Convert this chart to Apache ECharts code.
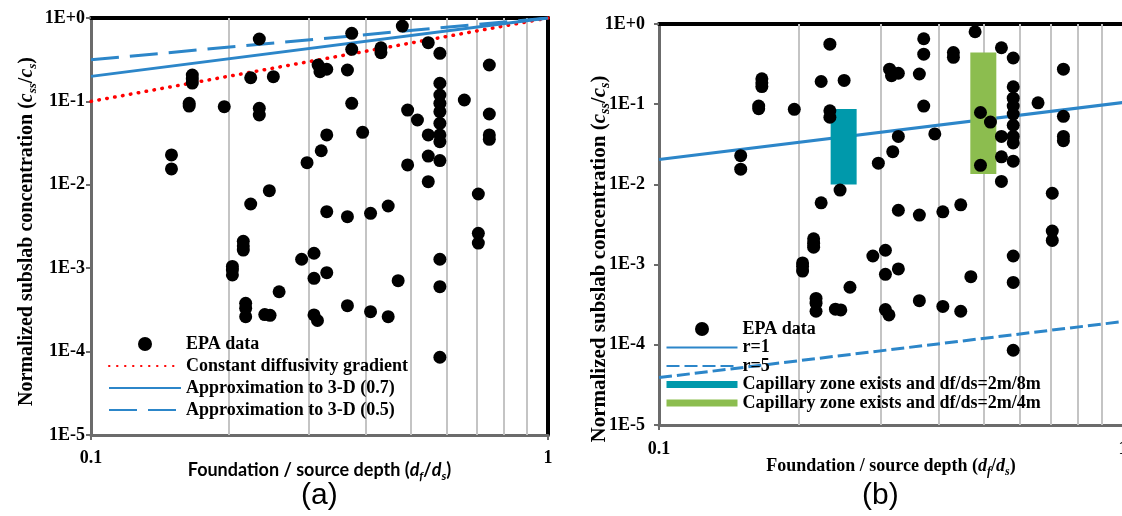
<!DOCTYPE html>
<html>
<head>
<meta charset="utf-8">
<script src="https://cdn.jsdelivr.net/npm/echarts@6.0.0/dist/echarts.min.js"></script>
<style>
  html, body { margin: 0; padding: 0; background: #fff; }
  #chart { width: 1122px; height: 516px; }
</style>
</head>
<body>
<div id="chart"></div>
<script>
'use strict';

/* EPA data, same points in both panels */
var epaX = [0.150, 0.150, 0.164, 0.164, 0.1666, 0.1666, 0.1666, 0.1957, 0.2236, 0.2335,
  0.2335, 0.2335, 0.2506, 0.2236, 0.2456, 0.314, 0.317, 0.328, 0.364, 0.372,
  0.372, 0.372, 0.431, 0.431, 0.480, 0.547, 0.580, 0.580, 0.580, 0.580,
  0.580, 0.580, 0.580, 0.580, 0.580, 0.547, 0.547, 0.547, 0.493, 0.518,
  0.493, 0.393, 0.328, 0.319, 0.297, 0.656, 0.744, 0.744, 0.744, 0.744,
  0.704, 0.704, 0.704, 0.328, 0.364, 0.409, 0.447, 0.2154, 0.2154, 0.2154,
  0.2039, 0.2039, 0.2039, 0.289, 0.3076, 0.3076, 0.328, 0.470, 0.580, 0.580,
  0.258, 0.218, 0.218, 0.218, 0.240, 0.2465, 0.3076, 0.313, 0.364, 0.409,
  0.447, 0.580];
var epaY = [0.0228, 0.0155, 0.095, 0.088, 0.207, 0.185, 0.166, 0.0864, 0.192, 0.56,
  0.0826, 0.0687, 0.198, 0.00589, 0.0085, 0.273, 0.227, 0.243, 0.238, 0.655,
  0.421, 0.0948, 0.44, 0.384, 0.80, 0.506, 0.377, 0.165, 0.119, 0.0948,
  0.0753, 0.0546, 0.0396, 0.0329, 0.0195, 0.0396, 0.0221, 0.0109, 0.0788, 0.0598,
  0.0173, 0.0426, 0.0396, 0.0256, 0.0184, 0.104, 0.273, 0.0706, 0.0396, 0.0351,
  0.00776, 0.00262, 0.0020, 0.00476, 0.00415, 0.00455, 0.00557, 0.0021, 0.00185, 0.00165,
  0.00105, 0.00095, 0.00083, 0.00128, 0.00151, 0.000757, 0.000883, 0.000708, 0.00128, 0.0006,
  0.000522, 0.000379, 0.00033, 0.000262, 0.000278, 0.000272, 0.000275, 0.000236, 0.000355, 0.000301,
  0.000262, 0.0000855];

/* model lines, read at both ends */
var lineX = [0.1, 1];
var constDiffY = [0.1, 1];
var approx07Y = [0.1995, 1];
var approx05Y = [0.316, 1];
var r1Y = [0.0205, 0.105];
var r5Y = [0.000039, 0.000195];

/* capillary zone bars */
var cap8mX = [0.25, 0.25];
var cap8mY = [0.01, 0.087];
var cap4mX = [0.5, 0.5];
var cap4mY = [0.0135, 0.44];

var gridX = [0.2, 0.3, 0.4, 0.5, 0.6, 0.7, 0.8, 0.9];
var xTickLabels = ['0.1', '1'];
var yTickLabels = ['1E-5', '1E-4', '1E-3', '1E-2', '1E-1', '1E+0'];

var serif = "'Liberation Serif', 'Times New Roman', serif";
var sans = "Lato, 'Liberation Sans', sans-serif";
var blue = '#2c86c9';

function pairs(xs, ys) {
  return xs.map(function (x, i) { return [x, ys[i]]; });
}

function richTitle(font, size) {
  return {
    n: { fontFamily: font, fontWeight: 'bold', fontSize: size, lineHeight: 24, color: '#000' },
    i: { fontFamily: font, fontWeight: 'bold', fontStyle: 'italic', fontSize: size, lineHeight: 24, color: '#000' },
    s: { fontFamily: font, fontWeight: 'bold', fontStyle: 'italic', fontSize: Math.round(size * 0.65), lineHeight: 12, verticalAlign: 'bottom', color: '#000' }
  };
}

var yName = '{n|Normalized subslab concentration (}{i|c}{s|ss}{n|/}{i|c}{s|s}{n|)}';
var xName = '{n|Foundation / source depth (}{i|d}{s|f}{n|/}{i|d}{s|s}{n|)}';

var gridLines = {
  silent: true,
  z: 1,
  symbol: ['none', 'none'],
  label: { show: false },
  lineStyle: { color: '#c4c4c4', width: 2, type: 'solid' },
  data: gridX.map(function (v) { return { xAxis: v }; })
};

function logX(gridIndex, margin, nameGap, font, size) {
  return {
    type: 'log', logBase: 10, min: 0.1, max: 1, gridIndex: gridIndex,
    axisLine: { show: true, lineStyle: { color: '#6b6b6b', width: 3 } },
    axisTick: { show: true, length: 5, lineStyle: { color: '#6b6b6b', width: 2 } },
    splitLine: { show: false },
    axisLabel: {
      margin: margin, color: '#000', fontFamily: serif, fontWeight: 'bold', fontSize: 18,
      formatter: function (v) { return v < 0.5 ? xTickLabels[0] : xTickLabels[1]; }
    },
    name: xName, nameLocation: 'middle', nameGap: nameGap, nameMoveOverlap: false,
    nameTextStyle: { rich: richTitle(font, size) }
  };
}

function logY(gridIndex, margin, nameGap, size, pad) {
  return {
    type: 'log', logBase: 10, min: 0.00001, max: 1, gridIndex: gridIndex,
    axisLine: { show: true, lineStyle: { color: '#6b6b6b', width: 3 } },
    axisTick: { show: true, length: 5, lineStyle: { color: '#6b6b6b', width: 2 } },
    splitLine: { show: false },
    axisLabel: {
      margin: margin, color: '#000', fontFamily: serif, fontWeight: 'bold', fontSize: 18,
      formatter: function (v) {
        var e = Math.round(Math.log(v) / Math.LN10);
        return yTickLabels[e + 5];
      }
    },
    name: yName, nameLocation: 'middle', nameGap: nameGap, nameMoveOverlap: false,
    nameTextStyle: { rich: richTitle(serif, size), padding: pad }
  };
}

function frame(gridIndex, pos) {
  return {
    type: 'value', min: 0, max: 1, gridIndex: gridIndex, position: pos,
    axisLine: { show: true, onZero: false, lineStyle: { color: '#000', width: 4 } },
    axisTick: { show: false }, axisLabel: { show: false }, splitLine: { show: false }
  };
}

/* legend icons for lines: no marker */
var noMark = { color: 'rgba(0,0,0,0)', borderWidth: 0, opacity: 0 };

var chart = echarts.init(document.getElementById('chart'));

var option = {
  animation: false,
  backgroundColor: '#fff',
  grid: [
    { left: 91, top: 18, width: 457, height: 417, outerBoundsMode: 'none', containLabel: false },
    { left: 659, top: 24, width: 464, height: 401, outerBoundsMode: 'none', containLabel: false }
  ],
  xAxis: [
    logX(0, 14, 23, sans, 18),
    frame(0, 'top'),
    logX(1, 15, 29, serif, 18),
    frame(1, 'top')
  ],
  yAxis: [
    logY(0, 6, 52, 20, [0, 10, 0, 0]),
    frame(0, 'right'),
    logY(1, 14, 47, 21, [0, 69, 0, 0])
  ],
  legend: [
    {
      orient: 'vertical', left: 108, top: 335, padding: 0,
      itemWidth: 72, itemHeight: 14, itemGap: 4,
      textStyle: { fontFamily: serif, fontWeight: 'bold', fontSize: 18, lineHeight: 18, color: '#000' },
      data: [
        'EPA data',
        { name: 'Constant diffusivity gradient', itemStyle: noMark },
        { name: 'Approximation to 3-D (0.7)', itemStyle: noMark },
        { name: 'Approximation to 3-D (0.5)', itemStyle: noMark }
      ]
    },
    {
      orient: 'vertical', left: 663, top: 320, padding: 0,
      itemWidth: 71, itemHeight: 14, itemGap: 0.5,
      textStyle: { fontFamily: serif, fontWeight: 'bold', fontSize: 18, lineHeight: 16, color: '#000' },
      data: [
        'EPA data',
        { name: 'r=1', itemStyle: noMark },
        { name: 'r=5', itemStyle: noMark },
        { name: 'Capillary zone exists and df/ds=2m/8m', itemStyle: noMark, lineStyle: { width: 7 } },
        { name: 'Capillary zone exists and df/ds=2m/4m', itemStyle: noMark, lineStyle: { width: 7 } }
      ]
    }
  ],
  graphic: [
    { type: 'text', left: 301, top: 481, style: { text: '(a)', font: "30px 'Liberation Sans', Arial, sans-serif", fill: '#000' } },
    { type: 'text', left: 862, top: 481, style: { text: '(b)', font: "30px 'Liberation Sans', Arial, sans-serif", fill: '#000' } }
  ],
  series: [
    /* panel (a) */
    {
      name: 'Constant diffusivity gradient', type: 'line', xAxisIndex: 0, yAxisIndex: 0,
      data: pairs(lineX, constDiffY), symbol: 'none', z: 2,
      lineStyle: { color: '#ff0000', width: 3.5, type: [0.5, 7.5], cap: 'round' },
      itemStyle: { color: '#ff0000' },
      markLine: gridLines
    },
    {
      name: 'Approximation to 3-D (0.7)', type: 'line', xAxisIndex: 0, yAxisIndex: 0,
      data: pairs(lineX, approx07Y), symbol: 'none', z: 2,
      lineStyle: { color: blue, width: 3 }, itemStyle: { color: blue }
    },
    {
      name: 'Approximation to 3-D (0.5)', type: 'line', xAxisIndex: 0, yAxisIndex: 0,
      data: pairs(lineX, approx05Y), symbol: 'none', z: 2,
      lineStyle: { color: blue, width: 3, type: [28, 11] }, itemStyle: { color: blue }
    },
    {
      name: 'EPA data', type: 'scatter', xAxisIndex: 0, yAxisIndex: 0,
      data: pairs(epaX, epaY), symbolSize: 13, z: 4,
      itemStyle: { color: '#000', opacity: 1 }
    },
    /* panel (b) */
    {
      name: 'r=1', type: 'line', xAxisIndex: 2, yAxisIndex: 2,
      data: pairs(lineX, r1Y), symbol: 'none', z: 2,
      lineStyle: { color: blue, width: 3 }, itemStyle: { color: blue },
      markLine: gridLines
    },
    {
      name: 'r=5', type: 'line', xAxisIndex: 2, yAxisIndex: 2,
      data: pairs(lineX, r5Y), symbol: 'none', z: 2,
      lineStyle: { color: blue, width: 3, type: [13, 5] }, itemStyle: { color: blue }
    },
    {
      name: 'Capillary zone exists and df/ds=2m/8m', type: 'line', xAxisIndex: 2, yAxisIndex: 2,
      data: pairs(cap8mX, cap8mY), symbol: 'none', z: 3,
      lineStyle: { color: '#0099ab', width: 26, cap: 'butt' }, itemStyle: { color: '#0099ab' }
    },
    {
      name: 'Capillary zone exists and df/ds=2m/4m', type: 'line', xAxisIndex: 2, yAxisIndex: 2,
      data: pairs(cap4mX, cap4mY), symbol: 'none', z: 3,
      lineStyle: { color: '#8cbd4f', width: 26, cap: 'butt' }, itemStyle: { color: '#8cbd4f' }
    },
    {
      name: 'EPA data', type: 'scatter', xAxisIndex: 2, yAxisIndex: 2,
      data: pairs(epaX, epaY), symbolSize: 13, z: 4,
      itemStyle: { color: '#000', opacity: 1 }
    }
  ]
};

chart.setOption(option);
</script>
</body>
</html>
